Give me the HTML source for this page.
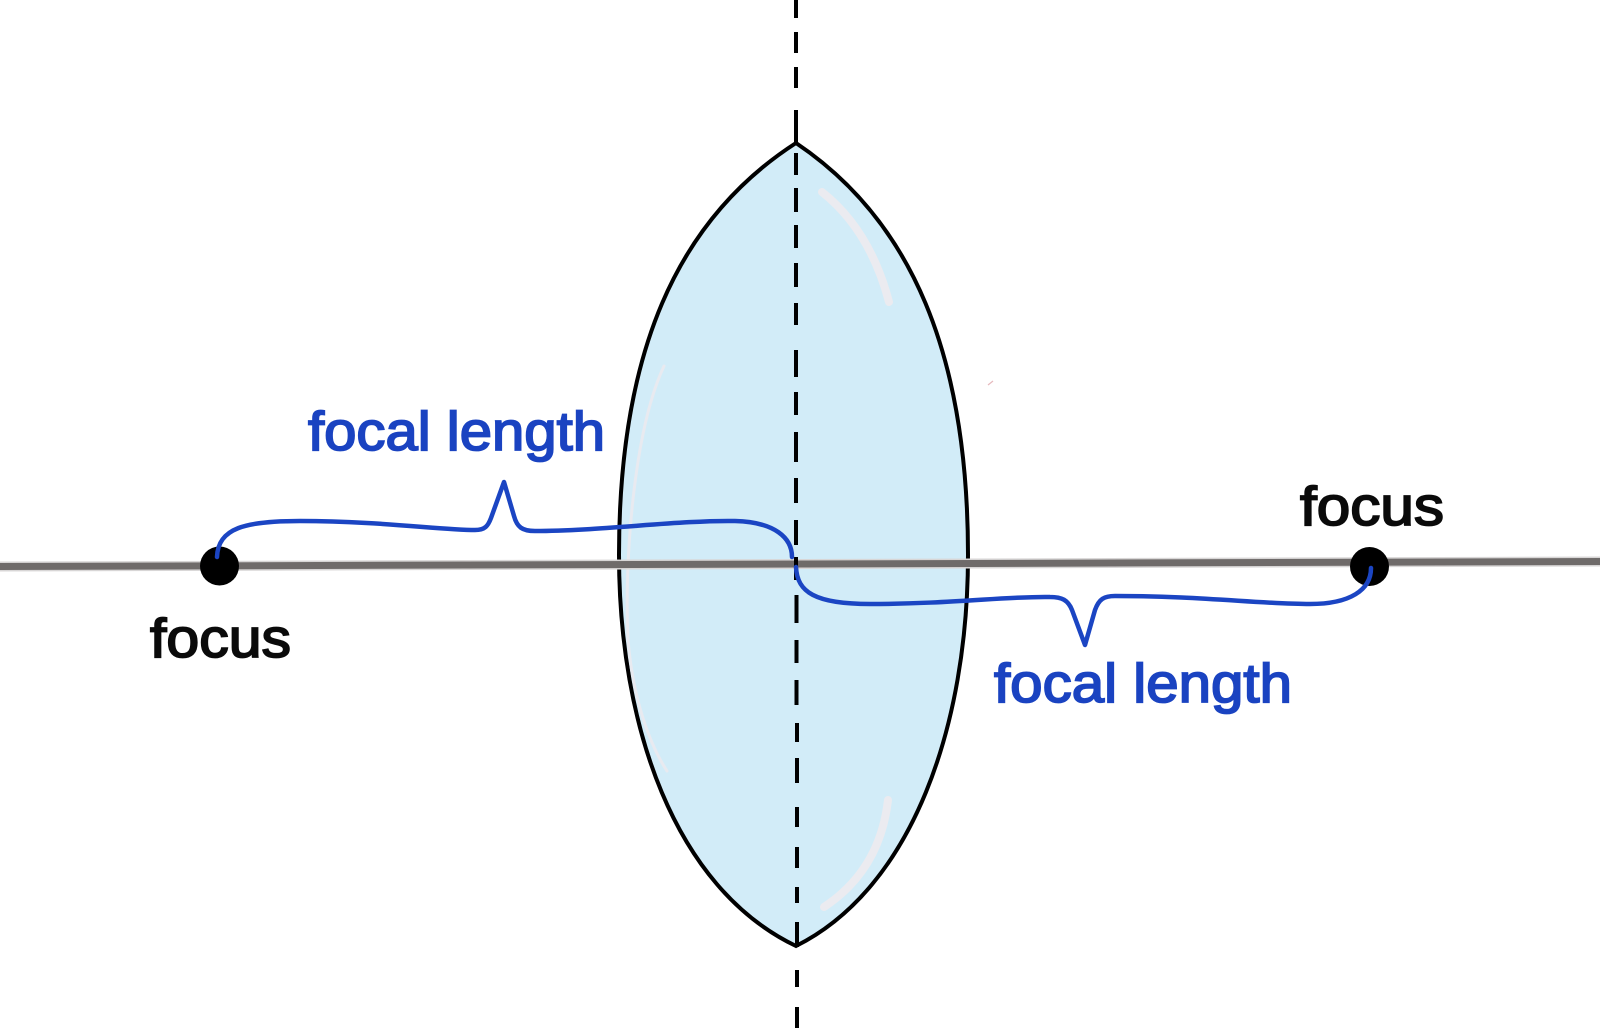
<!DOCTYPE html>
<html>
<head>
<meta charset="utf-8">
<style>
html,body{margin:0;padding:0;background:#fff;}
svg{display:block;}
text{font-family:"Liberation Sans",Arial,sans-serif;font-weight:normal;}
</style>
</head>
<body>
<svg width="1600" height="1034" viewBox="0 0 1600 1034" xmlns="http://www.w3.org/2000/svg">
  <rect width="1600" height="1034" fill="#ffffff"/>

  <!-- lens -->
  <path d="M796,143 C912,221 968,355 968,555 C968,725 913,887.5 796,946 C674,887.5 619,725 619,555 C619,355 675,221 796,143 Z"
    fill="#d2ecf8" stroke="#000" stroke-width="4" stroke-linejoin="miter"/>

  <!-- highlights -->
  <path d="M822,192 Q870,230 889,302" fill="none" stroke="#ebebf0" stroke-width="8" stroke-linecap="round"/>
  <path d="M888,800 Q880,870 824,907" fill="none" stroke="#ebebf0" stroke-width="8" stroke-linecap="round"/>
  <path d="M664,366 C634,430 624,560 628,640 C633,700 650,745 667,771" fill="none" stroke="#e8eaf0" stroke-width="3" stroke-linecap="round"/>

  <!-- optical axis -->
  <line x1="0" y1="566.5" x2="1600" y2="561.5" stroke="#d8d6d6" stroke-width="10"/>
  <line x1="0" y1="566.5" x2="1600" y2="561.5" stroke="#6f6b6a" stroke-width="7"/>

  <!-- dashed vertical -->
  <path d="M796,0 L796,18 M796,32 L796,53 M796,67 L796,88 M796,110 L796,143
    M796,153 L796,175 M796,188 L796,212 M796,225 L796,248 M796,263 L796,287 M796,303 L796,325
    M796,350 L796,377 M796,392 L796,415 M796,432 L796,462 M796,478 L796,503 M796,520 L796,545
    M796,557 L796,580 M796.5,595 L796.5,623 M796.5,640 L796.5,663 M796.5,680 L796.5,705
    M797,723 L797,742 M797,758 L797,783 M797,807 L797,827 M797,847 L797,868 M797,887 L797,903
    M797,922 L797,947 M797,970 L797,987 M797,1007 L797,1028"
    stroke="#000" stroke-width="4" fill="none"/>

  <!-- focus dots -->
  <circle cx="219.5" cy="566" r="19.5" fill="#000"/>
  <circle cx="1369.5" cy="566.5" r="19.5" fill="#000"/>

  <!-- braces -->
  <path d="M217,557 C218,528 245,521 300,521 C380,521 440,530 475,530 C485,530 488,526 491,518 L504,482 L514,516 C517,527 522,531 535,531 C600,531 680,520 735,521 C775,522 792,538 792,557"
    fill="none" stroke="#1b45c3" stroke-width="4.5" stroke-linecap="round" stroke-linejoin="round"/>
  <path d="M796,567 C797,592 815,604 870,604 C950,604 1010,596 1050,597 C1062,597 1068,600 1072,610 L1085,645 L1095,610 C1099,599 1104,596 1115,596 C1200,596 1260,604 1310,604 C1350,604 1371,590 1371,568"
    fill="none" stroke="#1b45c3" stroke-width="4.5" stroke-linecap="round" stroke-linejoin="round"/>

  <!-- stray marks -->
  <line x1="988" y1="385" x2="993" y2="381" stroke="#e6b8bc" stroke-width="1.2"/>

  <!-- labels -->
  <text x="308" y="450" font-size="55" fill="#1a43c1" stroke="#1a43c1" stroke-width="1.8" textLength="297" lengthAdjust="spacingAndGlyphs">focal length</text>
  <text x="994" y="702" font-size="55" fill="#1a43c1" stroke="#1a43c1" stroke-width="1.8" textLength="298" lengthAdjust="spacingAndGlyphs">focal length</text>
  <text x="150" y="657" font-size="55" fill="#0a0a0a" stroke="#0a0a0a" stroke-width="1.8" textLength="141" lengthAdjust="spacingAndGlyphs">focus</text>
  <text x="1300" y="525" font-size="55" fill="#0a0a0a" stroke="#0a0a0a" stroke-width="1.8" textLength="144" lengthAdjust="spacingAndGlyphs">focus</text>
</svg>
</body>
</html>
